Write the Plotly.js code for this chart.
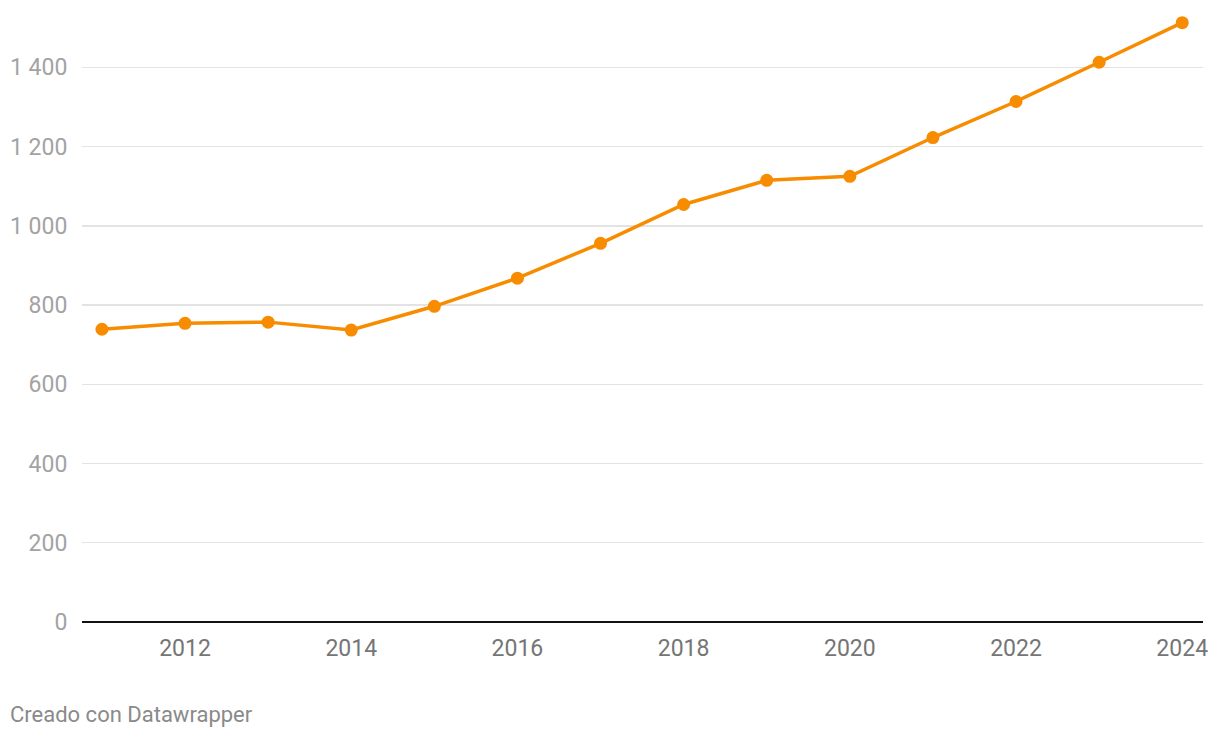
<!DOCTYPE html>
<html>
<head>
<meta charset="utf-8">
<script src="https://cdn.plot.ly/plotly-3.0.1.min.js"></script>
<style>html,body{margin:0;padding:0;background:#fff;}#chart{width:1220px;height:738px;}</style>
</head>
<body>
<div id="chart"></div>
<script>
const years = [2011, 2012, 2013, 2014, 2015, 2016, 2017, 2018, 2019, 2020, 2021, 2022, 2023, 2024];
const values = [739, 754, 757, 737, 797, 868, 956, 1054, 1115, 1125, 1223, 1314, 1413, 1513];
const xTicks = [2012, 2014, 2016, 2018, 2020, 2022, 2024];
const yTicks = [0, 200, 400, 600, 800, 1000, 1200, 1400];
const footer = "Creado con Datawrapper";

const trace = {
  x: years, y: values, type: 'scatter', mode: 'lines+markers',
  line: {color: '#f88c00', width: 3.5},
  marker: {color: '#f88c00', size: 13},
  cliponaxis: false, hoverinfo: 'x+y'
};

const layout = {
  width: 1220, height: 738,
  margin: {l: 82, r: 17, t: 8, b: 116},
  paper_bgcolor: '#fff', plot_bgcolor: '#fff',
  separators: ', ',
  font: {family: 'Roboto, sans-serif'},
  showlegend: false,
  xaxis: {
    range: [2010.76, 2024.25], tickvals: xTicks, ticktext: xTicks.map(String),
    showgrid: false, zeroline: false, showline: false,
    ticks: 'outside', ticklen: 5, tickcolor: 'rgba(0,0,0,0)',
    tickfont: {size: 23, color: '#757575'}
  },
  yaxis: {
    range: [0, 1550], tickvals: yTicks, tickformat: ',d',
    showgrid: true, gridcolor: '#e3e3e3', gridwidth: 1.3,
    zeroline: true, zerolinecolor: '#111', zerolinewidth: 2,
    showline: false,
    ticks: 'outside', ticklen: 9, tickcolor: 'rgba(0,0,0,0)',
    tickfont: {size: 23, color: '#a3a3a3'}
  },
  annotations: [{
    text: footer, xref: 'paper', yref: 'paper', x: 0, y: 0,
    xanchor: 'left', yanchor: 'middle', xshift: -74, yshift: -92,
    showarrow: false, font: {size: 22, color: '#8a8a8a', family: 'Roboto, sans-serif'}
  }]
};

Plotly.newPlot('chart', [trace], layout, {displayModeBar: false, staticPlot: true});
</script>
</body>
</html>
